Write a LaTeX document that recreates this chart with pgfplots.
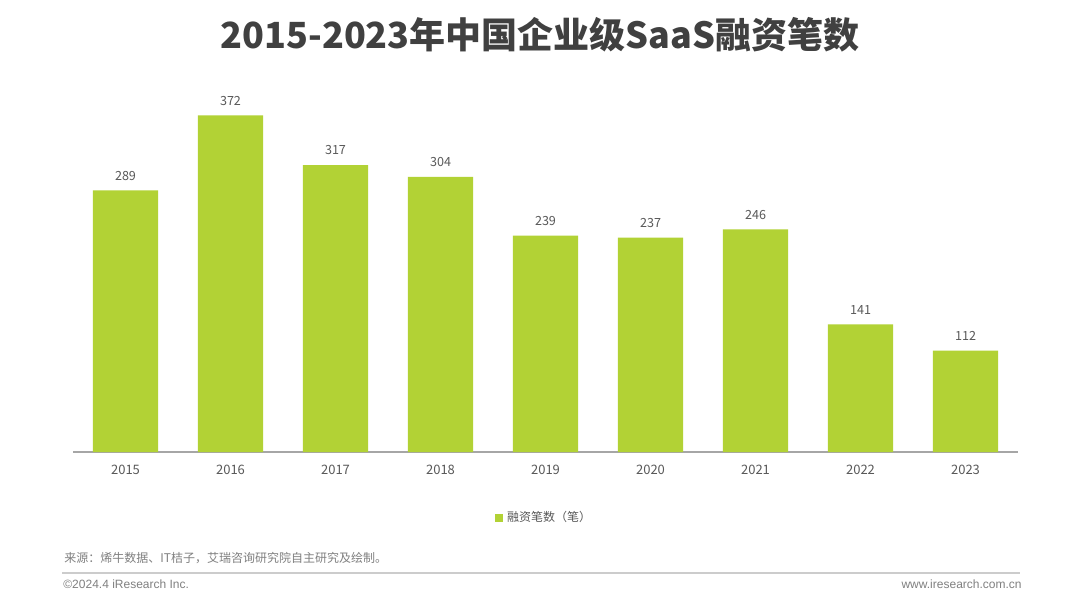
\documentclass[border=0pt]{standalone}
\usepackage{pgfplots}
\pgfplotsset{compat=1.18}
\usepackage{fontspec}
\setmainfont{Noto Sans CJK SC}
\newfontfamily\latinfont{Liberation Sans}
\definecolor{barc}{HTML}{B2D235}
\definecolor{titlec}{HTML}{404040}
\definecolor{labc}{HTML}{595959}
\definecolor{footc}{HTML}{808080}
\begin{document}
\begin{tikzpicture}[x=1pt,y=1pt]
\path[use as bounding box,fill=white] (0,0) rectangle (540,301);
\begin{axis}[
  at={(36.5pt,75pt)}, anchor=south west,
  scale only axis, width=472.5pt, height=181pt,
  xmin=-0.5, xmax=8.5, ymin=0, ymax=400,
  axis x line*=bottom, axis y line=none,
  x axis line style={draw=black!35, line width=0.6pt, -},
  xtick=data, xticklabels={2015,2016,2017,2018,2019,2020,2021,2022,2023},
  major tick length=0pt,
  xticklabel style={font=\fontsize{6.5}{7}\selectfont, text=labc, yshift=-3pt},
  /pgf/number format/assume math mode=true,
  ybar, bar width=0.62,
  nodes near coords,
  nodes near coords style={font=\fontsize{6.3}{7}\selectfont, text=labc, yshift=1.5pt},
  legend style={at={(0.4995,-0.182)}, anchor=center, draw=none, fill=none,
    font=\fontsize{6}{7}\selectfont, text=labc},
  legend image code/.code={\fill[barc] (0pt,-2pt) rectangle (4pt,2pt);},
]
\addplot[fill=barc, draw=none] coordinates {(0,289) (1,372) (2,317) (3,304) (4,239) (5,237) (6,246) (7,141) (8,112)};
\addlegendentry{融资笔数（笔）}
\end{axis}
\node[font=\fontsize{18}{20}\selectfont\bfseries, text=titlec] at (270,283.5) {2015-2023年中国企业级SaaS融资笔数};
\node[anchor=west, font=\fontsize{6}{7}\selectfont, text=footc, inner sep=0pt] at (32,22) {来源：烯牛数据、IT桔子，艾瑞咨询研究院自主研究及绘制。};
\draw[black!20, line width=0.8pt] (31,14.5) -- (510,14.5);
\node[anchor=west, font=\latinfont\fontsize{6}{7}\selectfont, text=footc, inner sep=0pt] at (31.5,9) {©2024.4 iResearch Inc.};
\node[anchor=east, font=\latinfont\fontsize{6}{7}\selectfont, text=footc, inner sep=0pt] at (511,9) {www.iresearch.com.cn};
\end{tikzpicture}
\end{document}
